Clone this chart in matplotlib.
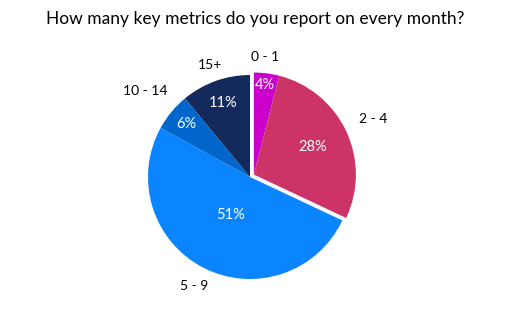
import numpy as np
import matplotlib
matplotlib.use('Agg')
import matplotlib.pyplot as plt

plt.rcParams['font.family'] = ['Lato', 'DejaVu Sans']

labels = ['0 - 1', '2 - 4', '5 - 9', '10 - 14', '15+']
values = [4, 28, 51, 6, 11]
colors = ['#CC00CC', '#CC3366', '#0A84FF', '#0066CC', '#142A5C']
pct_dist = [0.88, 0.64, 0.42, 0.81, 0.77]
lab_dist = [1.19, 1.34, 1.20, 1.33, 1.17]

fig = plt.figure(figsize=(5.1, 3.25), dpi=100)
ax = fig.add_axes([122.5 / 510, 20.5 / 325, 255 / 510, 255 / 325])

wedges, _ = ax.pie(values, colors=colors, startangle=90, counterclock=False,
                   wedgeprops=dict(linewidth=0))
ax.set_xlim(-1.25, 1.25)
ax.set_ylim(-1.25, 1.25)
ax.set_aspect('equal')

# pull the first two slices out together
t1 = wedges[1].theta1
t2 = wedges[0].theta2
mid = np.deg2rad((t1 + t2) / 2)
off = 0.045
for w in wedges[:2]:
    w.set_center((off * np.cos(mid), off * np.sin(mid)))

for i, w in enumerate(wedges):
    a = np.deg2rad((w.theta1 + w.theta2) / 2)
    cx, cy = w.center
    ax.text(cx + pct_dist[i] * np.cos(a), cy + pct_dist[i] * np.sin(a),
            '{}%'.format(values[i]), color='white', fontsize=10.5,
            ha='center', va='center')
    ax.text(lab_dist[i] * np.cos(a), lab_dist[i] * np.sin(a), labels[i],
            color='black', fontsize=10, ha='center', va='center')

fig.suptitle('How many key metrics do you report on every month?',
             fontsize=12.5, y=0.965)

fig.savefig('out.png', dpi=100)
